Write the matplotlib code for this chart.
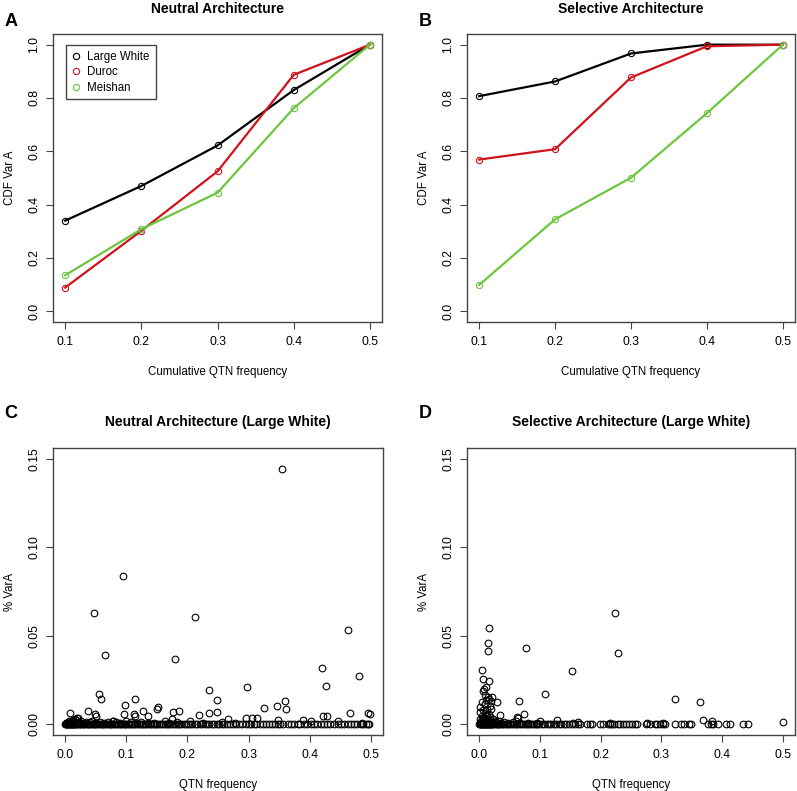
import numpy as np
import matplotlib
matplotlib.use("Agg")
import matplotlib.pyplot as plt
from matplotlib.lines import Line2D

plt.rcParams['font.family'] = ['Liberation Sans', 'DejaVu Sans']

# ---------------------------------------------------------
# CDF data (panels A, B)
# ---------------------------------------------------------
freq = [0.1, 0.2, 0.3, 0.4, 0.5]
breeds = ["Large White", "Duroc", "Meishan"]
colors = ["black", "#d0121b", "#6cc63f"]

neutral_lw = [0.340, 0.470, 0.622, 0.830, 1.0]
neutral_duroc = [0.089, 0.302, 0.525, 0.887, 1.0]
neutral_meishan = [0.135, 0.308, 0.445, 0.762, 1.0]

selective_lw = [0.807, 0.862, 0.967, 1.0, 1.0]
selective_duroc = [0.569, 0.608, 0.877, 0.994, 1.0]
selective_meishan = [0.099, 0.345, 0.501, 0.743, 1.0]

# ---------------------------------------------------------
# scatter data (panels C, D): QTN frequency vs % VarA
# ---------------------------------------------------------
c_out_x = [0.354, 0.095, 0.047, 0.213, 0.065, 0.180, 0.463, 0.4205, 0.481, 0.427,
           0.298, 0.236, 0.248, 0.055, 0.058, 0.114, 0.098, 0.152, 0.150, 0.1765,
           0.186, 0.326, 0.347, 0.360, 0.361, 0.466, 0.496, 0.498, 0.235, 0.249,
           0.219, 0.422, 0.429, 0.008, 0.038, 0.049, 0.051, 0.097, 0.113, 0.115,
           0.128, 0.135]
c_out_y = [0.1440, 0.0836, 0.0627, 0.0607, 0.0394, 0.0370, 0.0533, 0.0321, 0.0272, 0.0218,
           0.0212, 0.0192, 0.0139, 0.0171, 0.0143, 0.0144, 0.0109, 0.0096, 0.0084, 0.0071,
           0.0073, 0.0094, 0.0105, 0.0131, 0.0086, 0.0064, 0.0063, 0.0061, 0.0065, 0.0068,
           0.0051, 0.0047, 0.0049, 0.0065, 0.0075, 0.0060, 0.0048, 0.0056, 0.0060, 0.0048,
           0.0073, 0.0045]

c_low_x = [0.002, 0.005, 0.007, 0.010, 0.012, 0.014, 0.016, 0.018, 0.021, 0.023,
           0.026, 0.030, 0.034, 0.040, 0.044, 0.050, 0.057, 0.063, 0.070, 0.079,
           0.083, 0.090, 0.099, 0.108, 0.118, 0.124, 0.136, 0.145, 0.163, 0.170,
           0.183, 0.204, 0.226, 0.257, 0.266, 0.278, 0.296, 0.305, 0.314, 0.349,
           0.389, 0.403, 0.447, 0.486, 0.174, 0.020, 0.078]
c_low_y = [0.0010, 0.0015, 0.0020, 0.0012, 0.0025, 0.0018, 0.0030, 0.0022, 0.0035, 0.0014,
           0.0020, 0.0010, 0.0016, 0.0012, 0.0020, 0.0010, 0.0014, 0.0010, 0.0012, 0.0020,
           0.0016, 0.0010, 0.0020, 0.0012, 0.0010, 0.0015, 0.0010, 0.0008, 0.0020, 0.0010,
           0.0012, 0.0017, 0.0010, 0.0012, 0.0030, 0.0010, 0.0037, 0.0036, 0.0036, 0.0027,
           0.0027, 0.0020, 0.0020, 0.0010, 0.0030, 0.0034, 0.0020]

# QTNs sitting on the zero line
c_zero_x = [0.000, 0.001, 0.002, 0.003, 0.004, 0.005, 0.006, 0.007, 0.008, 0.009,
            0.010, 0.011, 0.012, 0.013, 0.014, 0.015, 0.017, 0.018, 0.020, 0.022,
            0.024, 0.025, 0.027, 0.029, 0.031, 0.033, 0.035, 0.037, 0.039, 0.041,
            0.043, 0.045, 0.047, 0.049, 0.051, 0.053, 0.055, 0.058, 0.060, 0.062,
            0.064, 0.066, 0.068, 0.071, 0.073, 0.075, 0.077, 0.080, 0.082, 0.084,
            0.086, 0.089, 0.091, 0.093, 0.096, 0.098, 0.100, 0.103, 0.105, 0.107,
            0.110, 0.112, 0.115, 0.117, 0.120, 0.122, 0.125, 0.127, 0.130, 0.132,
            0.135, 0.138, 0.140, 0.143, 0.146, 0.148, 0.151, 0.154, 0.157, 0.160,
            0.163, 0.166, 0.169, 0.172, 0.175, 0.178, 0.181, 0.184, 0.187, 0.190,
            0.194, 0.197, 0.201, 0.205, 0.208, 0.212, 0.216, 0.220, 0.224, 0.228,
            0.232, 0.236, 0.240, 0.244, 0.248, 0.252, 0.256, 0.260, 0.265, 0.270,
            0.275, 0.280, 0.285, 0.290, 0.296, 0.300, 0.304, 0.309, 0.313, 0.318,
            0.323, 0.329, 0.333, 0.338, 0.343, 0.349, 0.352, 0.356, 0.364, 0.369,
            0.375, 0.381, 0.385, 0.391, 0.396, 0.402, 0.407, 0.412, 0.418, 0.424,
            0.429, 0.434, 0.440, 0.446, 0.451, 0.457, 0.462, 0.468, 0.473, 0.478,
            0.484, 0.488, 0.492, 0.495, 0.497]

d_out_x = [0.224, 0.229, 0.016, 0.0148, 0.0142, 0.077, 0.153, 0.004, 0.006, 0.016,
           0.011, 0.008, 0.007, 0.109, 0.323, 0.364, 0.065, 0.030, 0.009, 0.014,
           0.016, 0.021, 0.012, 0.019, 0.0044, 0.0099, 0.0175, 0.002, 0.006, 0.013,
           0.020, 0.0016, 0.0093, 0.0164, 0.011, 0.0345, 0.063, 0.0646, 0.074, 0.369,
           0.383, 0.4995]
d_out_y = [0.0629, 0.0404, 0.0543, 0.0460, 0.0415, 0.0432, 0.0304, 0.0308, 0.0257, 0.0246,
           0.0212, 0.0199, 0.0190, 0.0172, 0.0144, 0.0127, 0.0131, 0.0124, 0.0163, 0.0156,
           0.0144, 0.0152, 0.0137, 0.0131, 0.0127, 0.0114, 0.0103, 0.0099, 0.0080, 0.0088,
           0.0085, 0.0071, 0.0065, 0.0060, 0.0052, 0.0052, 0.0043, 0.0037, 0.0058, 0.0024,
           0.0020, 0.0012]

d_low_x = [0.001, 0.002, 0.003, 0.004, 0.005, 0.006, 0.007, 0.008, 0.009, 0.010,
           0.012, 0.013, 0.014, 0.015, 0.017, 0.018, 0.020, 0.022, 0.024, 0.026,
           0.028, 0.032, 0.036, 0.041, 0.047, 0.055, 0.060, 0.068, 0.080, 0.095,
           0.100, 0.128, 0.155, 0.162, 0.215, 0.277, 0.302]
d_low_y = [0.0010, 0.0030, 0.0020, 0.0045, 0.0015, 0.0035, 0.0025, 0.0040, 0.0010, 0.0030,
           0.0020, 0.0045, 0.0012, 0.0033, 0.0022, 0.0040, 0.0015, 0.0028, 0.0010, 0.0020,
           0.0012, 0.0018, 0.0010, 0.0014, 0.0008, 0.0012, 0.0020, 0.0010, 0.0008, 0.0010,
           0.0020, 0.0024, 0.0010, 0.0012, 0.0008, 0.0006, 0.0008]

d_zero_x = [0.000, 0.001, 0.002, 0.003, 0.004, 0.005, 0.006, 0.007, 0.008, 0.009,
            0.010, 0.011, 0.012, 0.013, 0.014, 0.015, 0.016, 0.017, 0.018, 0.019,
            0.020, 0.021, 0.023, 0.025, 0.027, 0.029, 0.031, 0.033, 0.035, 0.037,
            0.040, 0.043, 0.045, 0.048, 0.051, 0.054, 0.057, 0.060, 0.063, 0.066,
            0.069, 0.072, 0.075, 0.078, 0.081, 0.084, 0.087, 0.090, 0.093, 0.096,
            0.099, 0.103, 0.107, 0.111, 0.115, 0.119, 0.123, 0.127, 0.131, 0.135,
            0.139, 0.143, 0.148, 0.152, 0.158, 0.163, 0.166, 0.177, 0.183, 0.186,
            0.199, 0.204, 0.212, 0.216, 0.218, 0.222, 0.228, 0.232, 0.237, 0.242,
            0.247, 0.252, 0.256, 0.260, 0.275, 0.282, 0.289, 0.293, 0.298, 0.302,
            0.306, 0.322, 0.333, 0.338, 0.345, 0.348, 0.377, 0.381, 0.385, 0.393,
            0.406, 0.413, 0.434, 0.442]

GREY = "#444444"


def style_axes(ax):
    for s in ax.spines.values():
        s.set_color(GREY)
        s.set_linewidth(1.0)
    ax.tick_params(direction='out', length=5, width=0.8, color=GREY,
                   labelsize=8.8)
    ax.tick_params(axis='x', pad=5)
    ax.tick_params(axis='y', pad=4)
    for lab in ax.get_yticklabels():
        lab.set_rotation(90)
        lab.set_va('center')
    # R puts the y label close to the left figure edge
    ax.yaxis.set_label_coords(-0.112, 0.5)


def cdf_panel(ax, series, title, letter, legend=False):
    for vals, col in zip(series, colors):
        ax.plot(freq, vals, color=col, lw=1.6, marker='o', ms=4.5,
                mfc='none', mec=col, mew=0.8)
    ax.set_xlim(0.084, 0.516)
    ax.set_ylim(-0.04, 1.04)
    ax.set_xticks(freq)
    ax.set_xticklabels([f"{v:.1f}" for v in freq])
    ax.set_yticks([0.0, 0.2, 0.4, 0.6, 0.8, 1.0])
    ax.set_yticklabels(["0.0", "0.2", "0.4", "0.6", "0.8", "1.0"])
    ax.set_xlabel("Cumulative QTN frequency", fontsize=8.3, labelpad=13)
    ax.set_ylabel("CDF Var A", fontsize=8.3)
    ax.set_title(title, fontsize=10, fontweight='bold', pad=15)
    style_axes(ax)
    if legend:
        handles = [Line2D([], [], ls='none', marker='o', ms=4.5, mfc='none',
                          mec=c, mew=0.8) for c in colors]
        leg = ax.legend(handles, breeds, loc='upper left', bbox_to_anchor=(0.038, 0.962),
                        borderaxespad=0, fontsize=8.3, handlelength=0.8,
                        handletextpad=0.6, labelspacing=0.3, borderpad=0.5,
                        fancybox=False, framealpha=1)
        leg.get_frame().set_edgecolor(GREY)
        leg.get_frame().set_linewidth(1.0)
    ax.text(-0.127, 1.045, letter, transform=ax.transAxes, fontsize=13,
            fontweight='bold', ha='center', va='center')


def scatter_panel(ax, xs, ys, title, letter):
    for x, y in zip(xs, ys):
        ax.plot(x, y, ls='none', marker='o', ms=4.8, mfc='none',
                mec='black', mew=0.8)
    ax.set_xlim(-0.02, 0.52)
    ax.set_ylim(-0.006, 0.156)
    ax.set_xticks([0.0, 0.1, 0.2, 0.3, 0.4, 0.5])
    ax.set_xticklabels(["0.0", "0.1", "0.2", "0.3", "0.4", "0.5"])
    ax.set_yticks([0.0, 0.05, 0.10, 0.15])
    ax.set_yticklabels(["0.00", "0.05", "0.10", "0.15"])
    ax.set_xlabel("QTN frequency", fontsize=8.3, labelpad=13)
    ax.set_ylabel("% VarA", fontsize=8.3)
    ax.set_title(title, fontsize=10, fontweight='bold', pad=16)
    style_axes(ax)
    ax.text(-0.127, 1.122, letter, transform=ax.transAxes, fontsize=13,
            fontweight='bold', ha='center', va='center')


fig = plt.figure(figsize=(7.97, 7.91), dpi=100)

ax_a = fig.add_axes([0.0665, 0.593, 0.413, 0.364])
ax_b = fig.add_axes([0.586, 0.593, 0.4115, 0.364])
ax_c = fig.add_axes([0.0665, 0.0708, 0.414, 0.3628])
ax_d = fig.add_axes([0.586, 0.0708, 0.4115, 0.3628])

cdf_panel(ax_a, [neutral_lw, neutral_duroc, neutral_meishan],
          "Neutral Architecture", "A", legend=True)
cdf_panel(ax_b, [selective_lw, selective_duroc, selective_meishan],
          "Selective Architecture", "B")

scatter_panel(ax_c,
              c_zero_x + c_low_x + c_out_x,
              [0.0] * len(c_zero_x) + c_low_y + c_out_y,
              "Neutral Architecture (Large White)", "C")
scatter_panel(ax_d,
              d_zero_x + d_low_x + d_out_x,
              [0.0] * len(d_zero_x) + d_low_y + d_out_y,
              "Selective Architecture (Large White)", "D")

fig.savefig("out.png", dpi=100)
